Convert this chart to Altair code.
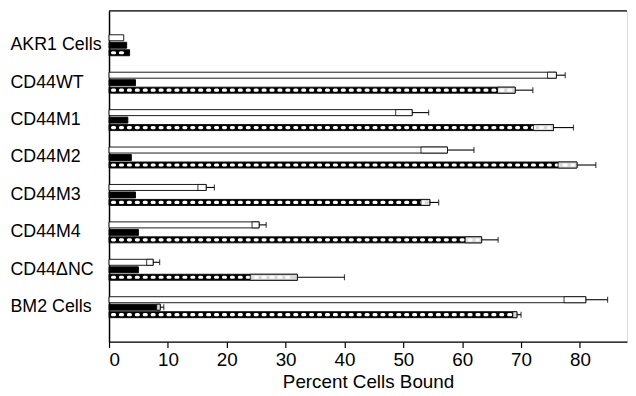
import altair as alt
import pandas as pd

cats = ["AKR1 Cells", "CD44WT", "CD44M1", "CD44M2", "CD44M3", "CD44M4", "CD44\u0394NC", "BM2 Cells"]
white = [2.5, 76.0, 51.5, 57.5, 16.5, 25.5, 7.5, 81.0]
white_err = [0.0, 1.5, 2.8, 4.5, 1.4, 1.2, 1.1, 3.7]
black = [3.0, 4.5, 3.2, 3.8, 4.5, 5.0, 5.0, 8.7]
black_err = [0.0, 0.0, 0.0, 0.0, 0.0, 0.0, 0.0, 0.6]
dotted = [3.5, 69.0, 75.5, 79.5, 54.5, 63.3, 32.0, 69.3]
dotted_err = [0.0, 3.0, 3.4, 3.2, 1.5, 2.8, 8.0, 0.7]
x_ticks = [0, 10, 20, 30, 40, 50, 60, 70, 80]

records = []
domain = ["|p1", "|p2"]
for i, c in enumerate(cats):
    domain += [c + "|s1", c + "|a", c, c + "|c", c + "|s2"]
    records.append({"row": c + "|a", "series": "white", "value": white[i], "err": white_err[i]})
    records.append({"row": c, "series": "black", "value": black[i], "err": black_err[i]})
    records.append({"row": c + "|c", "series": "dotted", "value": dotted[i], "err": dotted_err[i]})
domain += ["|p3", "|p4"]
df = pd.DataFrame(records)

W, H = 523, 334
FONT = "Liberation Sans"

yscale = alt.Scale(domain=domain, paddingInner=0.2, paddingOuter=0.2)
xscale = alt.Scale(domain=[0, 88], nice=False)

y_enc = alt.Y("row:N", scale=yscale, sort=domain, title=None,
              axis=alt.Axis(values=cats,
                            ticks=False, labelAlign="left", labelPadding=100,
                            labelFont=FONT, labelFontSize=18, labelColor="black",
                            domainColor="black", domainWidth=1.5, labelOverlap=False))
x_enc = alt.X("value:Q", scale=xscale, title="Percent Cells Bound",
              axis=alt.Axis(values=x_ticks, tickSize=6, tickColor="black", tickWidth=1.2,
                            domainColor="black", domainWidth=1.5, grid=False,
                            labelFont=FONT, labelFontSize=19, labelColor="black",
                            labelPadding=3,
                            titleFont=FONT, titleFontSize=19, titleFontWeight="normal",
                            titleColor="black", titlePadding=3))

base = alt.Chart(df)

bars = base.mark_bar(stroke="black", strokeWidth=0.9).encode(
    x=x_enc,
    x2=alt.datum(0),
    y=y_enc,
    color=alt.Color("series:N", scale=alt.Scale(domain=["white", "black", "dotted"],
                                                range=["white", "black", "black"]), legend=None),
)

dots = base.transform_filter("datum.series == 'dotted'").transform_calculate(
    s="0.6", e="datum.value - 0.6"
).mark_rule(color="white", strokeWidth=3.2, strokeDash=[2, 6], strokeCap="round").encode(
    x=alt.X("s:Q", scale=xscale), x2="e:Q", y=alt.Y("row:N", scale=yscale, sort=domain)
)

errd = base.transform_filter("datum.err > 0").transform_calculate(
    lo="datum.value - datum.err", hi="datum.value + datum.err"
)

inner = errd.mark_bar(fill="white", stroke="black", strokeWidth=0.8, fillOpacity=0.85).encode(
    x=alt.X("lo:Q", scale=xscale), x2="value:Q", y=alt.Y("row:N", scale=yscale, sort=domain)
)

whisk = errd.mark_rule(color="black", strokeWidth=1.1).encode(
    x=alt.X("value:Q", scale=xscale), x2="hi:Q", y=alt.Y("row:N", scale=yscale, sort=domain)
)

caps = errd.mark_tick(color="black", thickness=1.2, size=6).encode(
    x=alt.X("hi:Q", scale=xscale), y=alt.Y("row:N", scale=yscale, sort=domain)
)

top = alt.Chart(pd.DataFrame({"v": [0]})).mark_rule(color="black", strokeWidth=1.3).encode(
    x=alt.value(0), x2=alt.value(W), y=alt.value(0)
)

chart = alt.layer(bars, dots, inner, whisk, caps, top).properties(
    width=W, height=H, padding={"left": 2, "top": 0, "right": 0, "bottom": 0}
).configure_view(stroke=None).configure(background="white")

chart.save("out.html", embed_options={"renderer": "svg", "actions": False})
